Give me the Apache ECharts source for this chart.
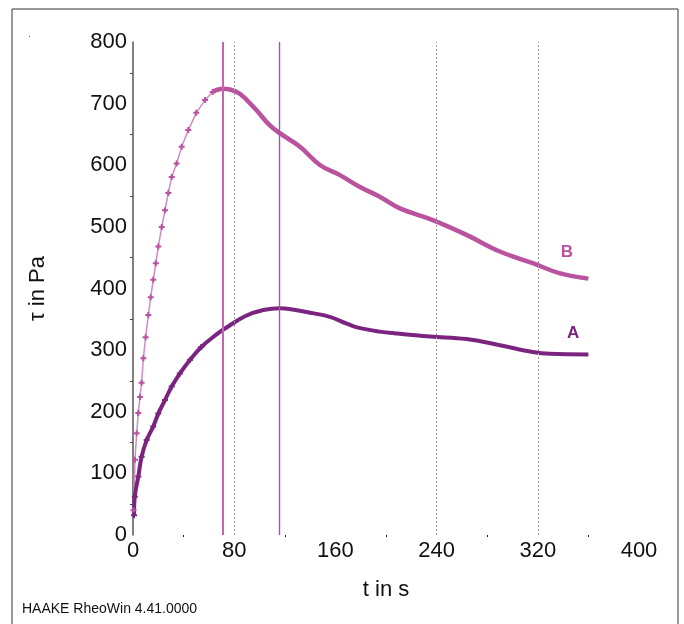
<!DOCTYPE html>
<html>
<head>
<meta charset="utf-8">
<script src="https://cdn.jsdelivr.net/npm/echarts@6/dist/echarts.min.js"></script>
<style>
  html, body { margin: 0; padding: 0; background: #fff; }
  #chart { width: 684px; height: 624px; }
</style>
</head>
<body>
<div id="chart"></div>
<script>
// curve B (upper)
const timeB = [0.4, 1.6, 2.9, 4.2, 5.5, 6.8, 8.2, 10, 12.1, 14, 16, 18, 20, 22.7, 25.3, 27.9, 30.6, 34.5, 38.5, 43.7, 50, 57, 63, 71, 76.6, 84.5, 96.4, 108, 116, 132, 148, 163.6, 179, 195, 211, 237, 263.6, 290, 316, 337, 360];
const tauB  = [40, 122, 165, 198, 224, 247, 287, 321, 357, 386, 414, 441, 468, 500, 527, 555, 581, 603, 630, 657, 685, 706, 719, 724, 723, 716, 692, 665, 652, 630, 600, 584, 565, 549, 530, 511, 487, 460, 441, 425, 416];
// curve A (lower)
const timeA = [0.8, 1.4, 4.2, 6.8, 10.8, 16, 20, 25.3, 30.6, 37, 45, 54, 65, 72.7, 88.5, 103, 116, 126, 142, 155.6, 169, 177, 195, 208, 235, 263.6, 290, 316, 329.5, 360];
const tauA  = [32, 62, 95, 127, 154, 176, 197, 219, 241, 262, 284, 305, 324, 335, 355, 365, 368, 366, 360, 354, 343, 337, 330, 327, 322, 318, 308, 297, 294, 293];

const xTicks = [0, 80, 160, 240, 320, 400];
const dottedAt = [80, 240, 320];
const peakB = 71, peakA = 116;
const labelB = [343, 459], labelA = [348, 328];

const colB = '#b9529f', colBlight = '#d08cc2', colA = '#7a2480';
const font = 'Liberation Sans, Arial, sans-serif';
const plus = 'path://M2 0h2v2h2v2h-2v2h-2v-2h-2v-2h2z';

const dataB = timeB.map((t, i) => [t, tauB[i]]);
const dataA = timeA.map((t, i) => [t, tauA[i]]);
const riseEnd = timeB.findIndex(t => t >= 63);

const chart = echarts.init(document.getElementById('chart'), null, { renderer: 'canvas' });
chart.setOption({
  animation: false,
  grid: { left: 133, right: 45, top: 42, bottom: 89 },
  xAxis: {
    type: 'value', min: 0, max: 400, interval: 80,
    name: 't in s', nameLocation: 'middle', nameGap: 44,
    nameTextStyle: { fontFamily: font, fontSize: 22, color: '#111' },
    axisLine: { show: false },
    axisTick: { show: false },
    minorTick: { show: true, splitNumber: 2, length: 2, lineStyle: { color: '#222' } },
    splitLine: { show: false },
    axisLabel: { fontFamily: font, fontSize: 22, color: '#111', margin: 5,
      formatter: v => xTicks.includes(v) ? String(v) : '' }
  },
  yAxis: {
    type: 'value', min: 0, max: 800, interval: 100,
    name: 'τ in Pa', nameLocation: 'middle', nameGap: 84, nameRotate: 90,
    nameTextStyle: { fontFamily: font, fontSize: 22, color: '#111' },
    axisLine: { show: true, lineStyle: { color: '#555', width: 1.5 } },
    axisTick: { show: false },
    minorTick: { show: true, splitNumber: 2, length: 3, lineStyle: { color: '#444' } },
    splitLine: { show: false },
    axisLabel: { fontFamily: font, fontSize: 22, color: '#111', margin: 6 }
  },
  graphic: [
    { type: 'rect', shape: { x: 12, y: 9, width: 666, height: 640 },
      style: { fill: 'none', stroke: '#333', lineWidth: 1 } },
    { type: 'rect', shape: { x: 29, y: 36, width: 1, height: 1 }, style: { fill: '#555' } },
    { type: 'text', left: 22, top: 602,
      style: { text: 'HAAKE RheoWin 4.41.0000', font: '14px ' + font, fill: '#111' } }
  ],
  series: [
    {
      type: 'line', data: [], silent: true,
      markLine: {
        silent: true, symbol: 'none', label: { show: false },
        data: dottedAt.map(x => ({ xAxis: x, lineStyle: { color: '#999', type: [2, 2], width: 1 } }))
          .concat([
            { xAxis: peakB, lineStyle: { color: '#c465ad', type: 'solid', width: 2 } },
            { xAxis: peakA, lineStyle: { color: '#a552b0', type: 'solid', width: 1.4, opacity: 1 } }
          ])
      }
    },
    {
      name: 'B rise', type: 'line', data: dataB.slice(0, riseEnd + 1),
      showSymbol: true, showAllSymbol: true, symbol: plus, symbolSize: 6,
      itemStyle: { color: colB }, lineStyle: { color: colBlight, width: 1.5 }
    },
    {
      name: 'B', type: 'line', data: dataB.slice(riseEnd), smooth: 0.4,
      showSymbol: false, lineStyle: { color: colB, width: 4.5 }, itemStyle: { color: colB },
      markPoint: {
        symbol: 'circle', symbolSize: 0,
        label: { show: true, formatter: 'B', color: colB, fontFamily: font, fontSize: 17, fontWeight: 'bold' },
        data: [{ coord: labelB }]
      }
    },
    {
      name: 'A', type: 'line', data: dataA, smooth: 0.4,
      showSymbol: true, showAllSymbol: true, symbol: plus,
      symbolSize: v => v[0] < 60 ? 6 : 0,
      itemStyle: { color: colA }, lineStyle: { color: colA, width: 4 },
      markPoint: {
        symbol: 'circle', symbolSize: 0,
        label: { show: true, formatter: 'A', color: colA, fontFamily: font, fontSize: 17, fontWeight: 'bold' },
        data: [{ coord: labelA }]
      }
    }
  ]
});
</script>
</body>
</html>
